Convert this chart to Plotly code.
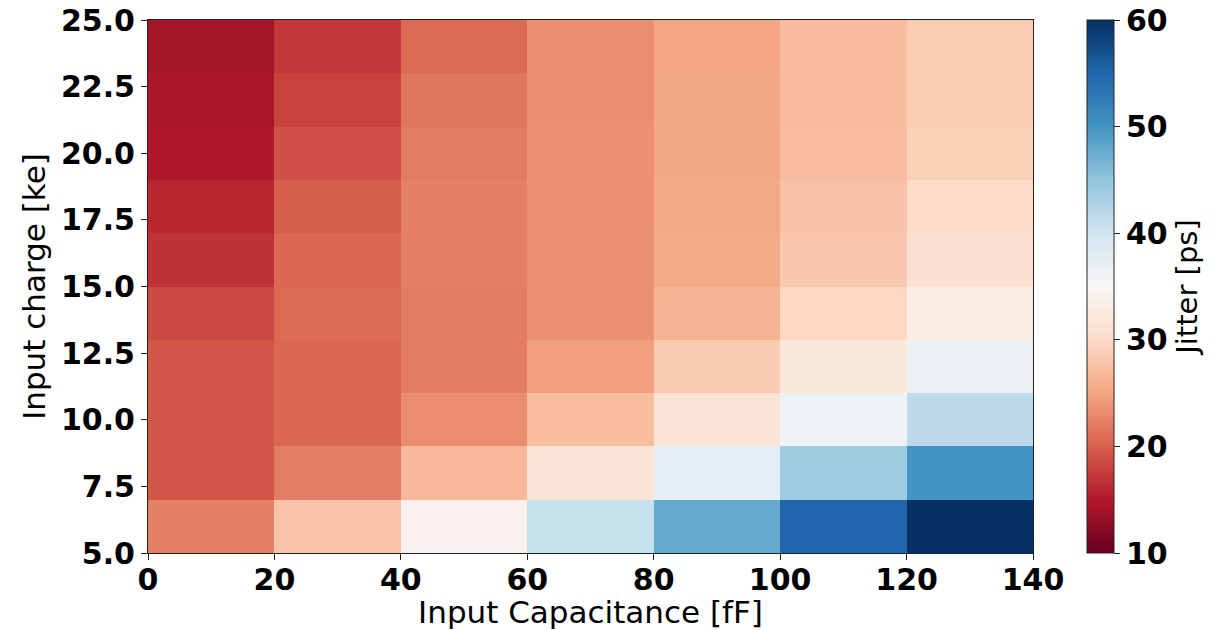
import plotly.graph_objects as go

# Input capacitance bin centers [fF] (bins 0-20, ..., 120-140)
capacitance = [10, 30, 50, 70, 90, 110, 130]
# Input charge bin centers [ke] (bins 5-7, ..., 23-25)
charge = [6, 8, 10, 12, 14, 16, 18, 20, 22, 24]

# Jitter [ps], one list per charge row (bottom to top)
jitter_q6 = [22.3, 27.8, 34.0, 40.9, 47.8, 55.0, 60.0]
jitter_q8 = [19.4, 22.1, 26.8, 31.6, 37.5, 43.9, 50.0]
jitter_q10 = [19.4, 20.5, 23.2, 27.1, 31.6, 36.3, 41.7]
jitter_q12 = [19.4, 20.5, 22.0, 24.6, 28.4, 32.0, 36.6]
jitter_q14 = [18.4, 20.8, 22.0, 23.5, 26.4, 29.8, 32.9]
jitter_q16 = [16.8, 20.6, 22.3, 23.5, 25.6, 28.2, 31.0]
jitter_q18 = [16.0, 20.0, 22.3, 23.5, 25.3, 27.6, 30.0]
jitter_q20 = [14.8, 18.9, 22.0, 23.6, 25.2, 27.2, 29.0]
jitter_q22 = [14.6, 18.0, 21.6, 23.4, 25.2, 27.0, 28.6]
jitter_q24 = [14.1, 17.2, 20.7, 23.4, 25.0, 27.0, 28.6]

x_ticks = [0, 20, 40, 60, 80, 100, 120, 140]
y_ticks = [5.0, 7.5, 10.0, 12.5, 15.0, 17.5, 20.0, 22.5, 25.0]
cb_ticks = [10, 20, 30, 40, 50, 60]

z = [jitter_q6, jitter_q8, jitter_q10, jitter_q12, jitter_q14,
     jitter_q16, jitter_q18, jitter_q20, jitter_q22, jitter_q24]

# matplotlib RdBu
rdbu_colors = ["#67001f", "#b2182b", "#d6604d", "#f4a582", "#fddbc7", "#f7f7f7",
               "#d1e5f0", "#92c5de", "#4393c3", "#2166ac", "#053061"]
colorscale = [[i / 10, c] for i, c in enumerate(rdbu_colors)]

FONT = "DejaVu Sans"
TICK = 30
TITLE = 31

fig = go.Figure(go.Heatmap(
    x=capacitance, y=charge, z=z,
    zmin=10, zmax=60, colorscale=colorscale,
    colorbar=dict(
        x=1.061, xanchor="left", xref="paper",
        y=0.5, yanchor="middle", len=1.0, lenmode="fraction",
        thickness=27, thicknessmode="pixels",
        outlinewidth=1, outlinecolor="#222",
        ypad=0, xpad=0,
        tickvals=cb_ticks, ticks="outside", ticklen=6, tickcolor="#222",
        tickfont=dict(family=FONT, size=TICK, color="black", weight="bold"),
        title=dict(text="Jitter [ps]", side="right",
                   font=dict(family=FONT, size=TITLE - 2, color="black")),
    ),
))

fig.update_xaxes(
    range=[0, 140], tickvals=x_ticks, ticks="outside", ticklen=6,
    tickcolor="#222", showline=True, linecolor="#222", linewidth=1, mirror=True,
    showgrid=False, zeroline=False, automargin=False, ticklabelstandoff=-6,
    tickfont=dict(family=FONT, size=TICK, color="black", weight="bold"),
    title=dict(text="Input Capacitance [fF]", standoff=4,
               font=dict(family=FONT, size=TITLE, color="black")),
)
fig.update_yaxes(
    range=[5, 25], tickvals=y_ticks, tickformat=".1f", ticks="outside", ticklen=6,
    tickcolor="#222", showline=True, linecolor="#222", linewidth=1, mirror=True,
    showgrid=False, zeroline=False, automargin=False,
    tickfont=dict(family=FONT, size=TICK, color="black", weight="bold"),
    title=dict(text="Input charge [ke]", standoff=6,
               font=dict(family=FONT, size=TITLE, color="black")),
)

fig.update_layout(
    width=1223, height=630,
    margin=dict(l=148, r=190, t=20, b=77, autoexpand=False),
    paper_bgcolor="white", plot_bgcolor="white",
)

fig.write_html("out.html")
